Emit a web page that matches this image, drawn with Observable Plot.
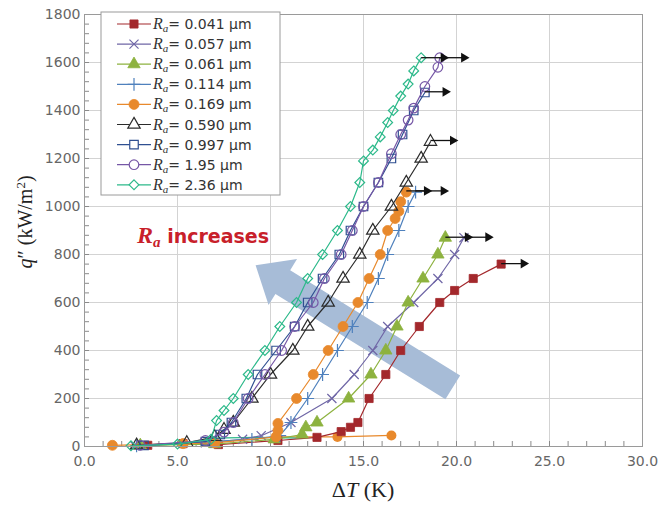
<!DOCTYPE html>
<html><head><meta charset="utf-8">
<script src="https://cdn.jsdelivr.net/npm/d3@7"></script>
<script src="https://cdn.jsdelivr.net/npm/@observablehq/plot@0.6"></script>
<style>body{margin:0;background:#fff}#chart{width:658px;height:505px}</style>
</head><body><div id="chart"></div>
<script>
// ---- data: [ΔT (K), q'' (kW/m²)] ----
const raLabels = ["0.041","0.057","0.061","0.114","0.169","0.590","0.997","1.95","2.36"];
const ra041 = [[3.4,5],[5.3,12],[7.2,8],[10.4,25],[12.5,38],[13.8,62],[14.3,80],[14.7,100],[15.3,200],[16.2,300],[17.0,400],[18.0,500],[19.1,600],[19.9,650],[20.9,700],[22.4,760]];
const ra057 = [[2.7,3],[6.5,15],[8.5,30],[9.5,45],[11.1,100],[13.3,200],[14.5,300],[15.5,400],[16.3,500],[17.7,600],[19.0,700],[19.9,800],[20.4,870]];
const ra061 = [[3.0,5],[7.0,10],[10.2,30],[11.7,50],[11.9,80],[12.5,100],[14.2,200],[15.4,300],[16.2,400],[16.8,500],[17.4,600],[18.2,700],[19.0,800],[19.4,870]];
const ra114 = [[2.8,3],[6.8,20],[9.0,30],[10.5,45],[11.1,100],[12.0,200],[12.8,300],[13.6,400],[14.4,500],[15.2,600],[15.8,700],[16.3,800],[16.9,900],[17.4,1000],[17.8,1060]];
const ra169 = [[1.5,5],[5.3,12],[7.0,15],[10.3,40],[10.4,67],[10.4,96],[11.4,200],[12.3,300],[13.1,400],[13.9,500],[14.7,600],[15.3,700],[15.9,800],[16.3,900],[16.7,950],[16.9,980],[17.0,1020],[17.3,1060]];
const ra169Tail = [[10.3,40],[13.6,40],[16.5,46]];
const ra590 = [[2.8,5],[5.5,15],[7.0,40],[7.5,70],[8.0,100],[9.0,200],[10.0,300],[11.2,400],[12.0,500],[13.1,600],[13.9,700],[14.8,800],[15.5,900],[16.5,1000],[17.3,1100],[18.1,1200],[18.6,1270]];
const ra997 = [[3.2,5],[6.5,20],[7.3,50],[7.9,100],[8.7,200],[9.3,300],[10.3,400],[11.3,500],[12.0,600],[12.8,700],[13.7,800],[14.3,900],[15.0,1000],[15.8,1100],[16.5,1200],[17.1,1300],[17.7,1400],[18.3,1475]];
const ra195 = [[3.0,5],[6.5,25],[7.5,60],[8.0,100],[8.8,200],[9.7,300],[10.6,400],[11.3,500],[12.3,600],[12.9,700],[13.8,800],[14.4,900],[15.0,1000],[15.8,1100],[16.5,1220],[17.0,1300],[17.4,1360],[17.7,1410],[18.3,1500],[19.0,1580],[19.1,1620]];
const ra236 = [[2.5,3],[5.0,10],[6.8,30],[7.1,108],[7.5,150],[8.0,200],[8.8,300],[9.7,400],[10.5,500],[11.4,600],[12.0,700],[12.8,800],[13.6,900],[14.3,1000],[14.8,1100],[15.0,1190],[15.5,1235],[15.9,1290],[16.3,1350],[16.6,1400],[17.0,1460],[17.4,1510],[17.7,1565],[18.1,1620]];
const ra236Low = [[6.8,35],[9.3,38],[11.7,35]];
// CHF arrows: start ΔT, q'', end ΔT
const chfStart = [22.4,20.4,19.4,17.8,17.3,18.6,18.3,19.1,18.1];
const chfQ     = [762,872,872,1065,1065,1275,1478,1620,1620];
const chfEnd   = [23.6,21.7,20.6,19.3,18.4,19.8,19.4,20.4,19.3];
// trend arrow tail (ΔT, q'')
const trendTail = [{x:19.8, q:246}];

const styles = [
  {data:ra041, color:"#a3282c", symbol:"square",   filled:true,  r:4.6},
  {data:ra057, color:"#6f66a6", symbol:"times",    filled:false, r:4.2},
  {data:ra061, color:"#8db23f", symbol:"triangle", filled:true,  r:4.6},
  {data:ra114, color:"#4f81bd", symbol:"plus",     filled:false, r:4.2},
  {data:ra169, color:"#e8892c", symbol:"circle",   filled:true,  r:5.0},
  {data:ra590, color:"#2b2b2b", symbol:"triangle", filled:false, r:4.6},
  {data:ra997, color:"#2f4f91", symbol:"square",   filled:false, r:4.8},
  {data:ra195, color:"#7657a6", symbol:"circle",   filled:false, r:4.8},
  {data:ra236, color:"#2cb98a", symbol:"diamond2", filled:false, r:4.4}
];

const W = 658, H = 505, mL = 84, mR = 16, mT = 14, mB = 59;
const pw = W - mL - mR, ph = H - mT - mB;
const arrowColor = "#a7bcd7";
const bigArrow = {
  draw(ctx, l) {
    const sw = 28, hw = 54, hl = 32;
    ctx.moveTo(-sw/2, 0);
    ctx.lineTo(-sw/2, -(l - hl));
    ctx.lineTo(-hw/2, -(l - hl));
    ctx.lineTo(0, -l);
    ctx.lineTo(hw/2, -(l - hl));
    ctx.lineTo(sw/2, -(l - hl));
    ctx.lineTo(sw/2, 0);
    ctx.closePath();
  }
};

const chfIdx = d3.range(chfStart.length);
const marks = [
  Plot.gridX(d3.range(5, 30, 5), {stroke:"#d3d3d3", strokeOpacity:1}),
  Plot.gridY(d3.range(200, 1800, 200), {stroke:"#d3d3d3", strokeOpacity:1}),
  Plot.ruleX(d3.range(1, 30, 1), {insetTop: ph - 5, stroke:"#8a8a8a"}),
  Plot.ruleY(d3.range(40, 1800, 40), {insetRight: pw - 5, stroke:"#8a8a8a"}),
  Plot.vector(trendTail, {x:"x", y:"q", length:232, rotate:-58.2, anchor:"start", shape:bigArrow, fill:arrowColor, stroke:"none"}),
  Plot.line(ra169Tail, {x:d=>d[0], y:d=>d[1], stroke:"#e8892c", strokeWidth:1.2}),
  Plot.dot(ra169Tail.slice(1), {x:d=>d[0], y:d=>d[1], symbol:"circle", r:5.0, fill:"#e8892c"}),
  Plot.line(ra236Low, {x:d=>d[0], y:d=>d[1], stroke:"#2cb98a", strokeWidth:1.4}),
  ...styles.flatMap(s => [
    Plot.line(s.data, {x:d=>d[0], y:d=>d[1], stroke:s.color, strokeWidth:1.2}),
    Plot.dot(s.data, {x:d=>d[0], y:d=>d[1], symbol:s.symbol, r:s.r,
      fill: s.filled ? s.color : "none", stroke: s.color, strokeWidth: s.filled ? 0.8 : 1.2})
  ]),
  Plot.link(chfIdx, {x1:i=>chfStart[i], x2:i=>chfEnd[i], y1:i=>chfQ[i], y2:i=>chfQ[i], stroke:"#111", strokeWidth:1.3}),
  Plot.dot(chfIdx, {x:i=>chfEnd[i], y:i=>chfQ[i], symbol:"triangle", rotate:90, r:3.6, fill:"#111", stroke:"none"}),
  Plot.frame({stroke:"#9a9a9a"}),
  Plot.axisX(d3.range(0, 31, 5), {tickFormat:d3.format(".1f"), tickSize:0, tickPadding:10, label:null, color:"#666", fontSize:14}),
  Plot.axisY(d3.range(0, 1801, 200), {tickFormat:d3.format("d"), tickSize:0, tickPadding:4, label:null, color:"#666", fontSize:14})
];

const svgNode = Plot.plot({
  width: W, height: H,
  marginLeft: mL, marginRight: mR, marginTop: mT, marginBottom: mB,
  x: {domain:[0, 30]},
  y: {domain:[0, 1800]},
  style: {fontFamily:"DejaVu Sans", background:"#fff"},
  marks
});
document.getElementById("chart").append(svgNode);

const svg = d3.select(svgNode);
// legend
const lg = svg.append("g").attr("text-anchor","start");
lg.append("rect").attr("x",101).attr("y",12).attr("width",179).attr("height",183)
  .attr("fill","#fff").attr("stroke","#9a9a9a");
const symMap = {square:d3.symbolSquare, times:d3.symbolTimes, triangle:d3.symbolTriangle, plus:d3.symbolPlus, circle:d3.symbolCircle, diamond2:d3.symbolDiamond2};
styles.forEach((s, i) => {
  const cy = 24 + i * 20.1;
  const g = lg.append("g");
  g.append("line").attr("x1",117).attr("x2",151).attr("y1",cy).attr("y2",cy).attr("stroke",s.color).attr("stroke-width",1.2);
  g.append("path").attr("d", d3.symbol(symMap[s.symbol], Math.PI*s.r*s.r)())
    .attr("transform",`translate(134,${cy})`)
    .attr("fill", s.filled ? s.color : "#fff").attr("stroke", s.color).attr("stroke-width", s.filled?0.8:1.2);
  const t = g.append("text").attr("x",153).attr("y",cy+5).attr("text-anchor","start").attr("fill","#333").attr("font-size",14).attr("font-family","DejaVu Sans");
  t.append("tspan").attr("font-family","Liberation Serif").attr("font-style","italic").attr("font-size",16).text("R");
  t.append("tspan").attr("font-family","Liberation Serif").attr("font-style","italic").attr("font-size",11).attr("dy",3).text("a");
  t.append("tspan").attr("dy",-3).text(`= ${raLabels[i]} µm`);
});
// annotation
const ann = svg.append("text").attr("x",137).attr("y",243).attr("text-anchor","start").attr("fill","#c8202a").attr("font-weight","bold").attr("font-family","DejaVu Sans").attr("font-size",19);
ann.append("tspan").attr("font-family","Liberation Serif").attr("font-style","italic").attr("font-size",24).text("R");
ann.append("tspan").attr("font-family","Liberation Serif").attr("font-style","italic").attr("font-size",15).attr("dy",4).text("a");
ann.append("tspan").attr("dy",-4).text(" increases");
// axis titles
const xl = svg.append("text").attr("x",363).attr("y",497).attr("text-anchor","middle").attr("font-family","Liberation Serif").attr("font-size",22).attr("fill","#222");
xl.append("tspan").text("Δ");
xl.append("tspan").attr("font-style","italic").text("T");
xl.append("tspan").text(" (K)");
const yl = svg.append("text").attr("transform","translate(32,222) rotate(-90)").attr("text-anchor","middle").attr("font-family","Liberation Serif").attr("font-size",20).attr("fill","#222");
yl.append("tspan").attr("font-style","italic").text("q");
yl.append("tspan").text("″ (kW/m");
yl.append("tspan").attr("font-size",13).attr("dy",-7).text("2");
yl.append("tspan").attr("dy",7).text(")");
</script></body></html>
